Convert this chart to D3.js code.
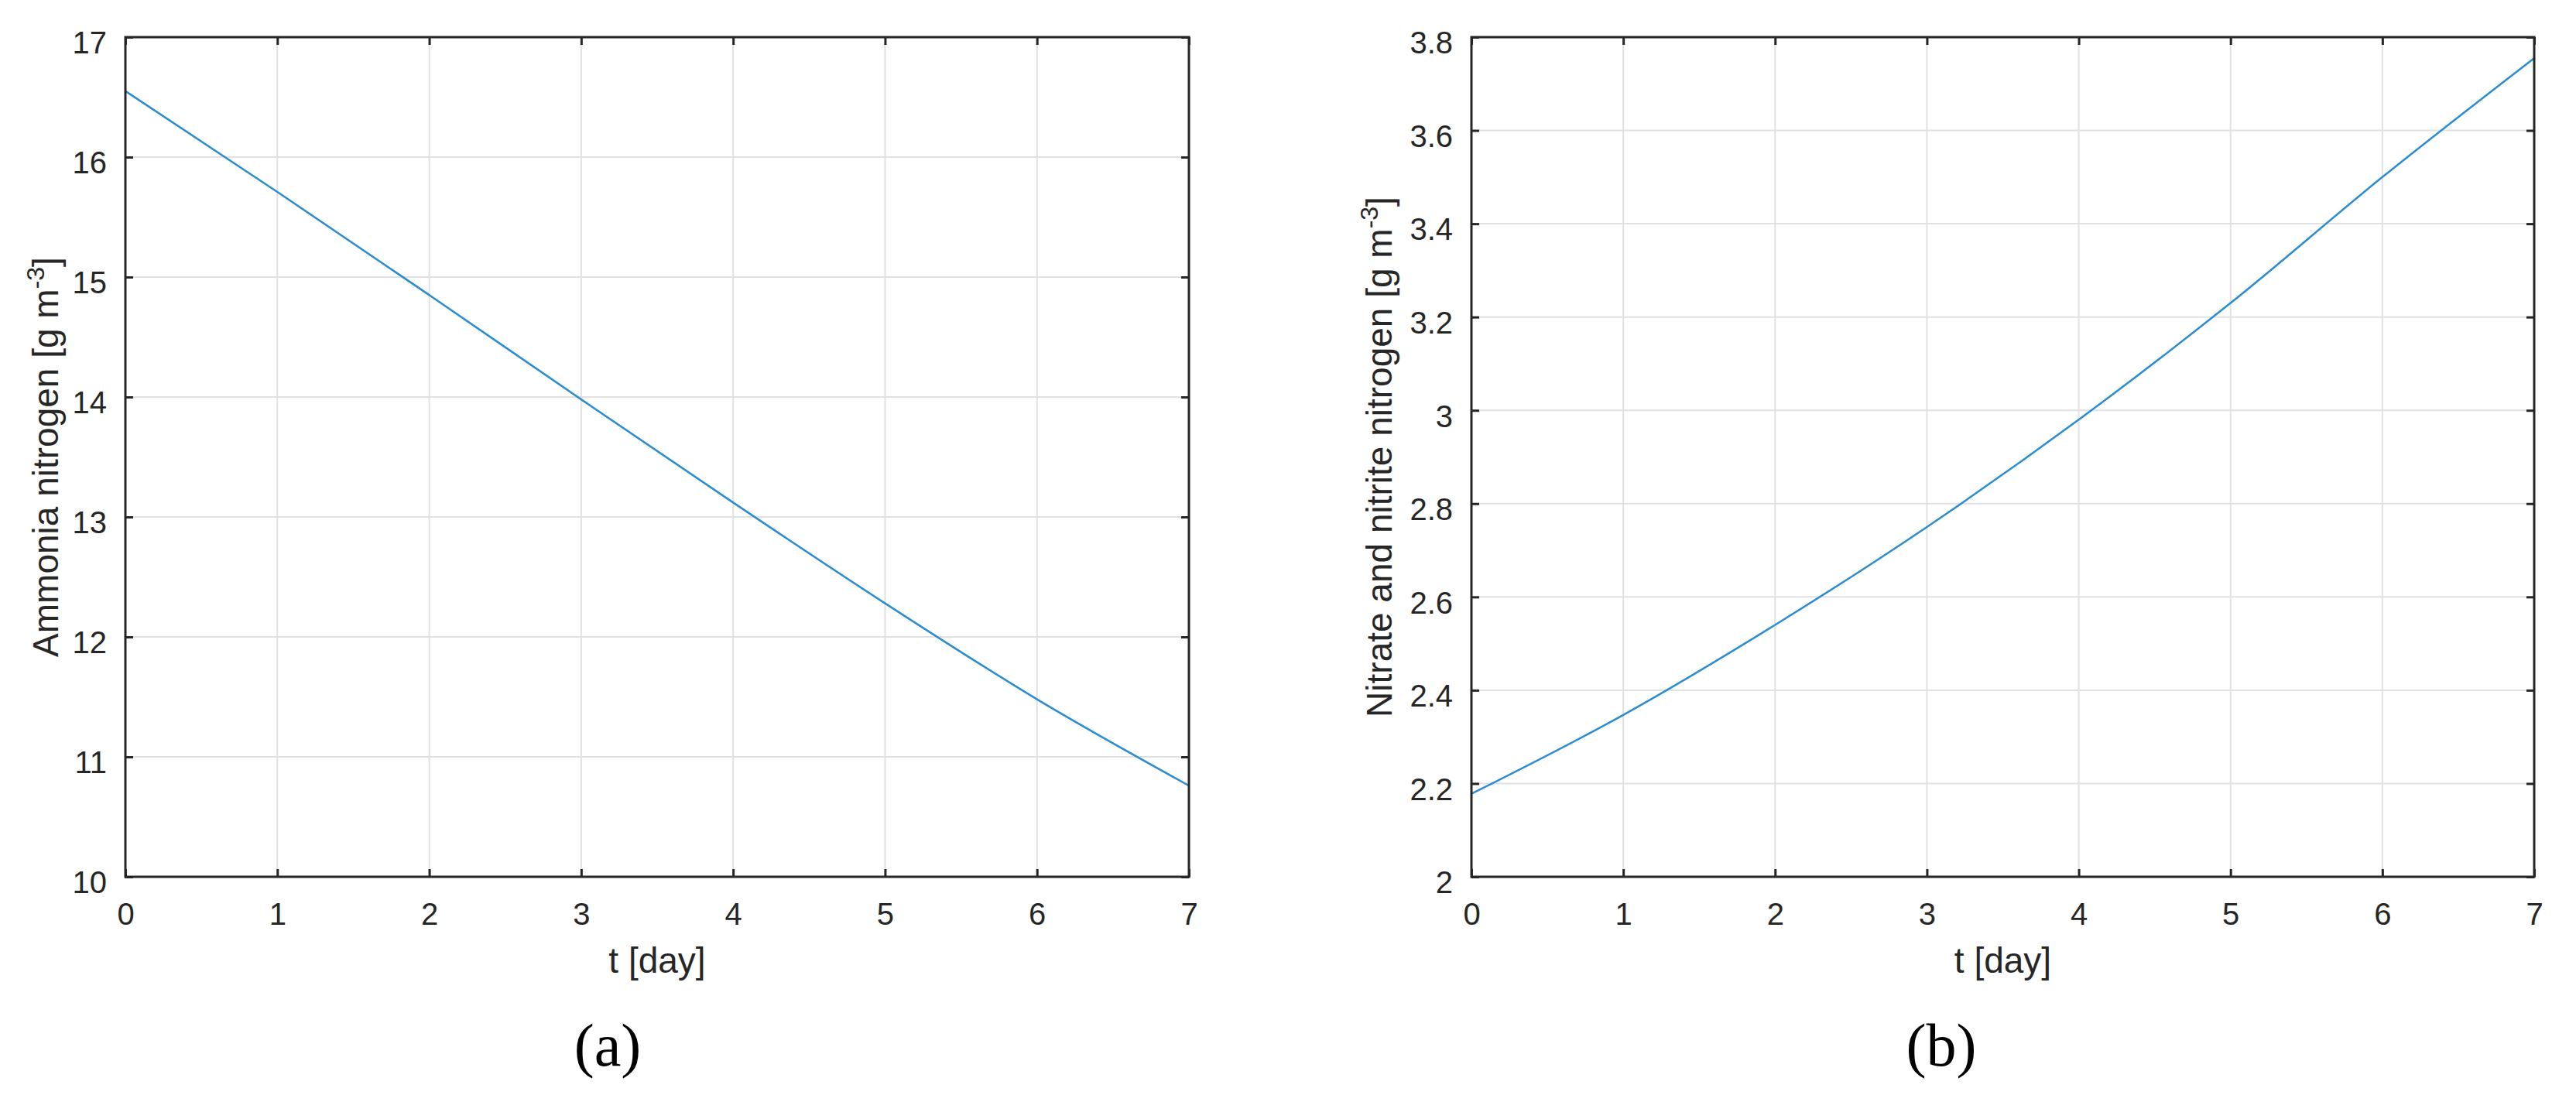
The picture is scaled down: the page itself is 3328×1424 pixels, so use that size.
<!DOCTYPE html>
<html>
<head>
<meta charset="utf-8">
<title>Ammonia and nitrate nitrogen over one week</title>
<script src="https://d3js.org/d3.v7.min.js"></script>
<style>
  body { margin: 0; background: #fff; }
  svg text { font-family: "Liberation Sans", Arial, Helvetica, sans-serif; fill: #262626; }
</style>
</head>
<body>
<div id="chart"></div>
<script>
// values
var days = [0, 1, 2, 3, 4, 5, 6, 7];
var ammonia = [16.55, 15.71, 14.85, 13.98, 13.12, 12.28, 11.48, 10.76];
var nitrate = [2.178, 2.347, 2.54, 2.75, 2.98, 3.23, 3.50, 3.755];

var dayTicks = [0, 1, 2, 3, 4, 5, 6, 7];
var dayTickLabels = ["0", "1", "2", "3", "4", "5", "6", "7"];
var ammoniaTicks = [10, 11, 12, 13, 14, 15, 16, 17];
var ammoniaTickLabels = ["10", "11", "12", "13", "14", "15", "16", "17"];
var nitrateTicks = [2, 2.2, 2.4, 2.6, 2.8, 3, 3.2, 3.4, 3.6, 3.8];
var nitrateTickLabels = ["2", "2.2", "2.4", "2.6", "2.8", "3", "3.2", "3.4", "3.6", "3.8"];

var W = 3328, H = 1424;
var tickFont = 40, labelFont = 46;
var axisColor = "#262626", gridColor = "#e1e1e1", lineColor = "#2a8cd2";

var svg = d3.select("#chart").append("svg")
  .attr("width", W)
  .attr("height", H);

function drawPanel(p) {
  var x = d3.scaleLinear().domain([0, 7]).range([p.left, p.right]);
  var y = d3.scaleLinear().domain(p.yDomain).range([p.bottom, p.top]);
  var g = svg.append("g");

  // grid
  g.append("g").selectAll("line").data(dayTicks).enter().append("line")
    .attr("x1", d => x(d)).attr("x2", d => x(d))
    .attr("y1", p.top).attr("y2", p.bottom)
    .attr("stroke", gridColor).attr("stroke-width", 2);
  g.append("g").selectAll("line").data(p.yTicks).enter().append("line")
    .attr("x1", p.left).attr("x2", p.right)
    .attr("y1", d => y(d)).attr("y2", d => y(d))
    .attr("stroke", gridColor).attr("stroke-width", 2);

  // series
  var pts = days.map((t, i) => ({ t: t, v: p.values[i] }));
  var line = d3.line().x(d => x(d.t)).y(d => y(d.v)).curve(d3.curveMonotoneX);
  g.append("path").datum(pts)
    .attr("d", line)
    .attr("fill", "none")
    .attr("stroke", lineColor)
    .attr("stroke-width", 2.5);

  // axes, ticks pointing inward
  g.append("g").attr("transform", "translate(0," + p.bottom + ")")
    .call(d3.axisBottom(x).tickValues(dayTicks).tickFormat((d, i) => dayTickLabels[i])
      .tickSizeInner(-10).tickSizeOuter(0).tickPadding(34));
  var left = g.append("g").attr("transform", "translate(" + p.left + ",0)")
    .call(d3.axisLeft(y).tickValues(p.yTicks).tickFormat((d, i) => p.yLabels[i])
      .tickSizeInner(-10).tickSizeOuter(0).tickPadding(24));
  g.append("g").attr("transform", "translate(0," + p.top + ")")
    .call(d3.axisTop(x).tickValues(dayTicks).tickFormat("").tickSizeInner(-10).tickSizeOuter(0));
  g.append("g").attr("transform", "translate(" + p.right + ",0)")
    .call(d3.axisRight(y).tickValues(p.yTicks).tickFormat("").tickSizeInner(-10).tickSizeOuter(0));

  g.selectAll(".domain").remove();
  g.selectAll(".tick line").attr("stroke", axisColor).attr("stroke-width", 3);
  g.selectAll(".tick text").attr("font-size", tickFont).attr("font-family", null).attr("fill", axisColor);
  left.selectAll(".tick text").attr("dy", "0.52em");

  g.append("rect")
    .attr("x", p.left).attr("y", p.top)
    .attr("width", p.right - p.left).attr("height", p.bottom - p.top)
    .attr("fill", "none").attr("stroke", axisColor).attr("stroke-width", 3);

  // axis labels
  g.append("text")
    .attr("x", (p.left + p.right) / 2).attr("y", p.bottom + 124)
    .attr("text-anchor", "middle").attr("font-size", labelFont)
    .text("t [day]");

  var yl = g.append("text")
    .attr("transform", "translate(" + p.yLabelX + "," + (p.top + p.bottom) / 2 + ") rotate(-90)")
    .attr("text-anchor", "middle").attr("font-size", labelFont);
  yl.append("tspan").text(p.yTitle + " [g m");
  yl.append("tspan").attr("dy", -18).attr("font-size", 32).text("-3");
  yl.append("tspan").attr("dy", 18).text("]");

  // panel caption
  svg.append("text")
    .attr("x", p.captionX).attr("y", 1377)
    .attr("text-anchor", "middle")
    .attr("font-size", 78)
    .style("font-family", "'Liberation Serif', 'Times New Roman', serif")
    .style("fill", "#000")
    .text(p.caption);
}

drawPanel({
  left: 162, right: 1536, top: 48, bottom: 1133,
  yDomain: [10, 17], yTicks: ammoniaTicks, yLabels: ammoniaTickLabels,
  values: ammonia, yTitle: "Ammonia nitrogen", yLabelX: 75,
  caption: "(a)", captionX: 785
});

drawPanel({
  left: 1901, right: 3274, top: 48, bottom: 1133,
  yDomain: [2, 3.8], yTicks: nitrateTicks, yLabels: nitrateTickLabels,
  values: nitrate, yTitle: "Nitrate and nitrite nitrogen", yLabelX: 1798,
  caption: "(b)", captionX: 2508
});
</script>
</body>
</html>
